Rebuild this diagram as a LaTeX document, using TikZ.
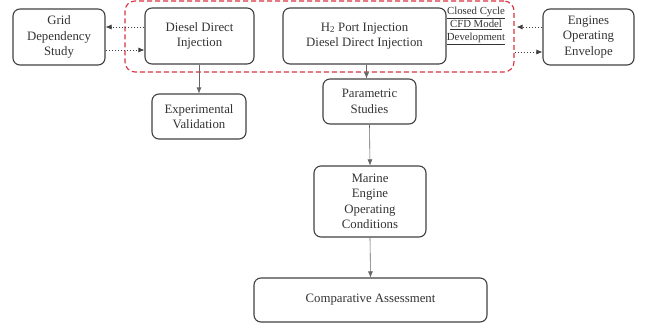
\documentclass[tikz,border=0pt]{standalone}
\usepackage{fontspec}
\setmainfont{Liberation Serif}
\usetikzlibrary{arrows.meta}
\definecolor{boxline}{HTML}{404040}
\definecolor{txt}{HTML}{333333}
\definecolor{redd}{HTML}{D9333F}
\tikzset{
  box/.style={draw=boxline, line width=1.1pt, rounded corners=7pt, align=center,
    text=txt, font=\fontsize{12.8}{15.5}\selectfont, inner sep=0pt},
  flow/.style={draw=boxline!80, line width=0.6pt, -{Latex[length=6pt,width=5pt]}},
  dotarrow/.style={draw=boxline, line width=0.7pt, dash pattern=on 1.5pt off 1.5pt,
    -{Latex[length=6pt,width=5pt]}},
  region/.style={draw=redd, line width=1.1pt, dash pattern=on 5pt off 3pt, rounded corners=10pt, inner sep=0pt}
}
\begin{document}
\begin{tikzpicture}[x=1pt,y=-1pt]
\useasboundingbox (0,0) rectangle (647,324);
\node[region, minimum width=389pt, minimum height=71pt] (cyc) at (319.5,36.5) {};
\node[box, minimum width=92pt, minimum height=56pt] (grid) at (59,37) {Grid\\Dependency\\Study};
\node[box, minimum width=109pt, minimum height=56pt] (ddi) at (199.5,36) {Diesel Direct\\Injection};
\node[box, minimum width=163pt, minimum height=56pt] (h2) at (364.5,36) {H\textsubscript{2} Port Injection\\Diesel Direct Injection};
\node[box, minimum width=91pt, minimum height=56pt] (eng) at (588.5,37) {Engines\\Operating\\Envelope};
\node[box, minimum width=94pt, minimum height=45pt] (exp) at (199,116.5) {Experimental\\Validation};
\node[box, minimum width=93pt, minimum height=45pt] (par) at (369.5,101.5) {Parametric\\Studies};
\node[box, minimum width=112pt, minimum height=71pt] (mar) at (370,201.5) {Marine\\Engine\\Operating\\Conditions};
\node[box, minimum width=233pt, minimum height=44pt] (cmp) at (370.5,300) {Comparative Assessment};
\node[align=center, text=txt, font=\fontsize{10.8}{13}\selectfont, inner sep=0pt] (lbl) at (476,26) {\underline{Closed Cycle}\\\underline{CFD Model}\\\underline{Development}};
% flows
\draw[flow] (ddi.south -| exp.north) -- (exp.north);
\draw[flow] ([xshift=2pt]h2.south) -- ([xshift=2pt]h2.south |- par.north);
\draw[flow] (par.south) -- (mar.north);
\draw[flow] (mar.south) -- (cmp.north);
% dotted links
\draw[dotarrow] ([yshift=9pt]ddi.west) -- ([yshift=9pt]ddi.west -| grid.east);
\draw[dotarrow] ([yshift=-14pt]ddi.west -| grid.east) -- ([yshift=-14pt]ddi.west);
\draw[dotarrow] ([yshift=10pt]eng.west) -- ([yshift=10pt,xshift=2pt]eng.west -| cyc.east);
\draw[dotarrow] ([yshift=-15pt]eng.west -| cyc.east) -- ([yshift=-15pt]eng.west);
\end{tikzpicture}
\end{document}
